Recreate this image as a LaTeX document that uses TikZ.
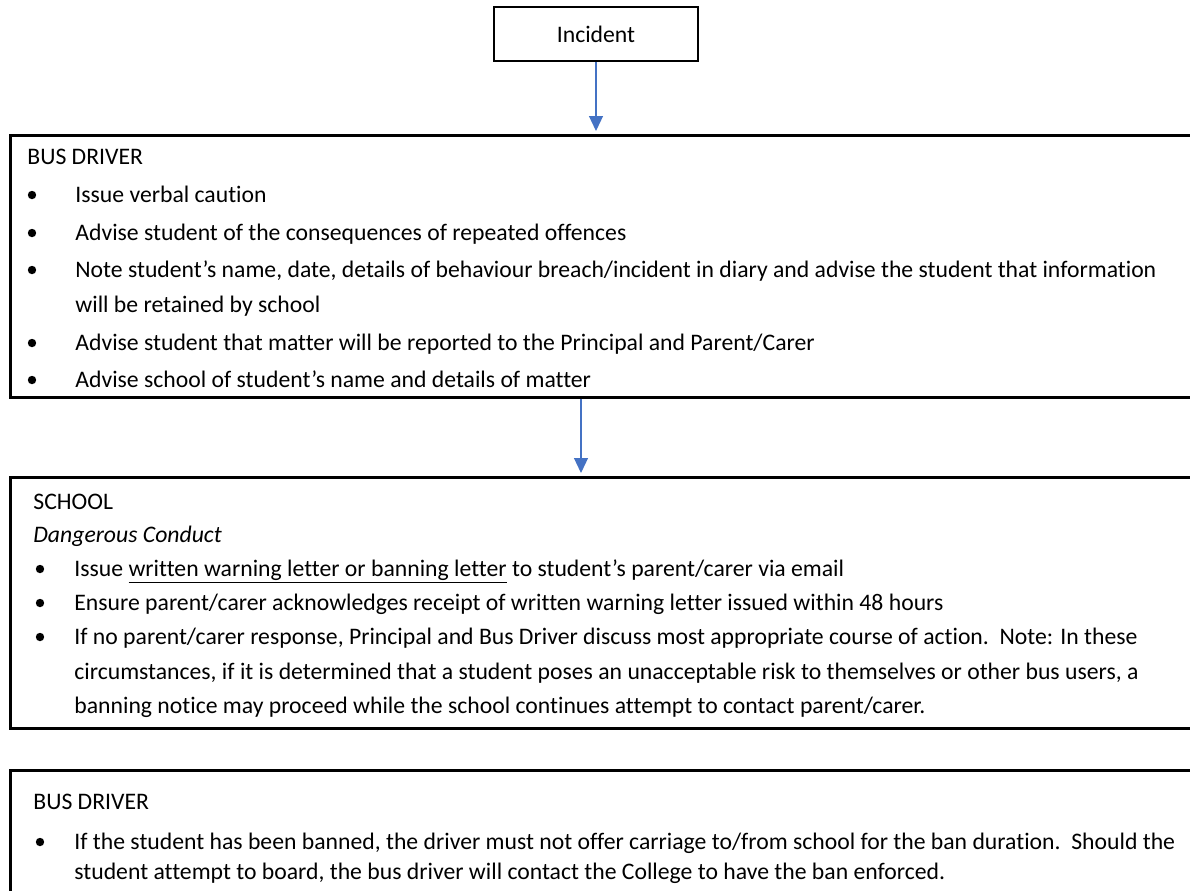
\documentclass[tikz,border=0pt]{standalone}
\usepackage{fontspec}
\setmainfont[Ligatures={NoCommon}]{Carlito}
\usetikzlibrary{arrows.meta,positioning}
\definecolor{flowblue}{RGB}{68,114,196}

\begin{document}
\begin{tikzpicture}[
    x=0.5pt,y=-0.5pt,
    every node/.style={font=\fontsize{11.85}{14}\selectfont},
    panel/.style={rectangle,draw=black,line width=1.4pt,anchor=north west,inner sep=0pt},
    line/.style={anchor=base west,inner sep=0pt},
    dot/.style={circle,fill=black,inner sep=0pt,minimum size=4.2pt},
    flow/.style={-{Triangle[length=7.5pt,width=7pt]},draw=flowblue,line width=0.6pt,shorten >=1.5pt}
  ]
  \useasboundingbox (0,0) rectangle (1190,890);

  % boxes (run off the right edge as in the source page)
  \node[panel,line width=1.2pt,anchor=center,minimum width=102pt,minimum height=27pt] (incident) at (596,34) {Incident};
  \node[panel,minimum width=600pt,minimum height=131pt] (driver) at (9,134) {};
  \node[panel,minimum width=600pt,minimum height=125.5pt] (school) at (9,476) {};
  \node[panel,minimum width=600pt,minimum height=70pt] (ban) at (9,769) {};

  % first bus driver box
  \node[line] (drvhead) at (27,164) {BUS DRIVER};
  \node[line] (drva) at (75,202) {Issue verbal caution};
  \node[line] (drvb) at (75,240) {Advise student of the consequences of repeated offences};
  \node[line] (drvc) at (75,277) {Note student’s name, date, details of behaviour breach/incident in diary and advise the student that information};
  \node[line] (drvc2) at (75,312) {will be retained by school};
  \node[line] (drvd) at (75,350) {Advise student that matter will be reported to the Principal and Parent/Carer};
  \node[line] (drve) at (75,387) {Advise school of student’s name and details of matter};
  \foreach \y in {195,233,270,343,380}
    \node[dot] at (32,\y) {};

  % school box
  \node[line] (schhead) at (33,509) {SCHOOL};
  \node[line] (schsub) at (33,542) {\textit{Dangerous Conduct}};
  \node[line] (scha) at (74,576) {Issue \underline{written warning letter or banning letter} to student’s parent/carer via email};
  \node[line] (schb) at (74,610) {Ensure parent/carer acknowledges receipt of written warning letter issued within 48 hours};
  \node[line] (schc) at (74,644) {If no parent/carer response, Principal and Bus Driver discuss most appropriate course of action.\ \ Note: In these};
  \node[line] (schc2) at (74,679) {circumstances, if it is determined that a student poses an unacceptable risk to themselves or other bus users, a};
  \node[line] (schc3) at (74,713) {banning notice may proceed while the school continues attempt to contact parent/carer.};
  \foreach \y in {569,603,637}
    \node[dot] at (40,\y) {};

  % second bus driver box
  \node[line] (banhead) at (33,809) {BUS DRIVER};
  \node[line] (bana) at (74,849) {If the student has been banned, the driver must not offer carriage to/from school for the ban duration.\ \ Should the};
  \node[line] (bana2) at (74,879) {student attempt to board, the bus driver will contact the College to have the ban enforced.};
  \node[dot] at (40,842) {};

  % connectors
  \coordinate (gap) at (581,0);
  \draw[flow] (incident.south) -- (incident.south |- driver.north);
  \draw[flow] (gap |- driver.south) -- (gap |- school.north);
\end{tikzpicture}
\end{document}
